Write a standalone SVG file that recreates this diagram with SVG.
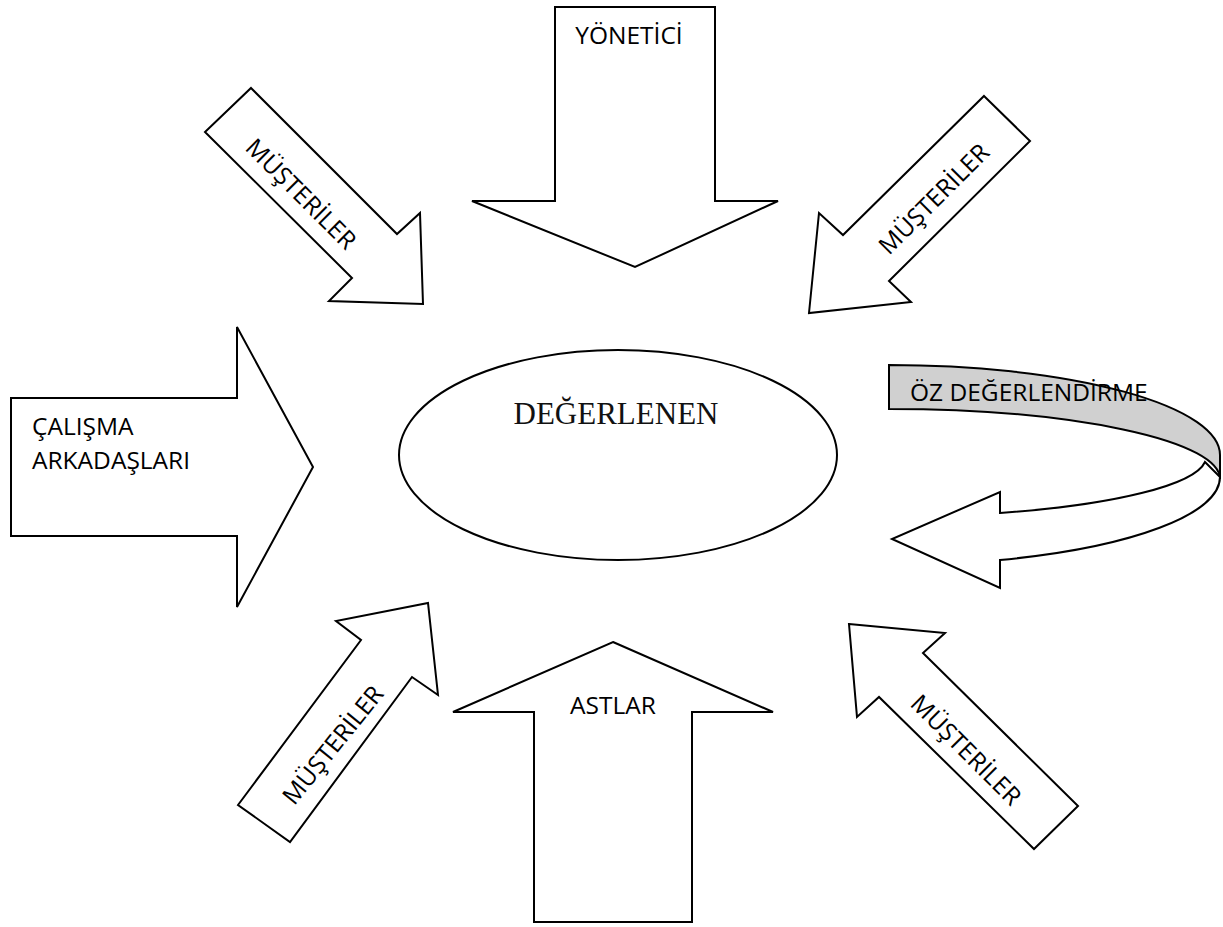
<svg xmlns="http://www.w3.org/2000/svg" width="1223" height="927" viewBox="0 0 1223 927">
<style>
.shape{fill:#fff;stroke:#000;stroke-width:2;stroke-linejoin:miter}
.back{fill:#d0d0d0;stroke:#000;stroke-width:2}
.lbl{font-family:"Open Sans","Liberation Sans",sans-serif;font-size:24.5px;fill:#000}
.serif{font-family:"Liberation Serif","Times New Roman",serif;font-size:31px;fill:#111}
</style>
<rect width="1223" height="927" fill="#fff"/>
<g id="connectors">
<g id="arrow-yonetici">
<polygon class="shape" points="555,7 715,7 715,201 778,201 635,267 472,201 555,201"/>
<text class="lbl" x="629" y="44" text-anchor="middle">YÖNETİCİ</text>
</g>
<g id="arrow-astlar">
<polygon class="shape" points="613,642 773,712 692,712 692,922 534,922 534,712 453,712"/>
<text class="lbl" x="613" y="714" text-anchor="middle">ASTLAR</text>
</g>
<g id="arrow-calisma">
<polygon class="shape" points="11,398 237,398 237,327 313,467 237,607 237,536 11,536"/>
<text class="lbl" x="32" y="435">ÇALIŞMA</text>
<text class="lbl" x="32" y="469">ARKADAŞLARI</text>
</g>
<g id="arrow-musteriler-tl">
<polygon class="shape" points="251,88 397,234 420,213 423,304 329,301 352,278 205,132"/>
<text class="lbl" transform="translate(301,194) rotate(45)" x="0" y="8.5" text-anchor="middle">MÜŞTERİLER</text>
</g>
<g id="arrow-musteriler-tr">
<polygon class="shape" points="984,96 1030,141 889,281 911,302 809,313 819,213 843,235"/>
<text class="lbl" transform="translate(934,199) rotate(-45)" x="0" y="8.5" text-anchor="middle">MÜŞTERİLER</text>
</g>
<g id="arrow-musteriler-bl">
<polygon class="shape" points="238,805 361,640 336,621 428,603 438,695 412,677 290,842"/>
<text class="lbl" transform="translate(333,745) rotate(-51)" x="0" y="8.5" text-anchor="middle">MÜŞTERİLER</text>
</g>
<g id="arrow-musteriler-br">
<polygon class="shape" points="849,624 945,633 923,653 1078,806 1034,849 879,697 857,717"/>
<text class="lbl" transform="translate(966,750) rotate(45)" x="0" y="8.5" text-anchor="middle">MÜŞTERİLER</text>
</g>
<g id="arrow-oz">
<path class="back" d="M889,365 A331,90 0 0,1 1220,455 L1220,479 A331,70 0 0,0 889,409 Z"/>
<path class="shape" d="M1000,492 L1000,513 A318,60 0 0,0 1205,462 L1220,477 A331,88 0 0,1 1000,560 L1000,588 L892,539 Z"/>
<text class="lbl" x="910" y="401">ÖZ DEĞERLENDİRME</text>
</g>
</g>
<g id="node-degerlenen">
<ellipse class="shape" cx="618" cy="455" rx="219" ry="105"/>
<text class="serif" x="616" y="424" text-anchor="middle">DEĞERLENEN</text>
</g>
</svg>
